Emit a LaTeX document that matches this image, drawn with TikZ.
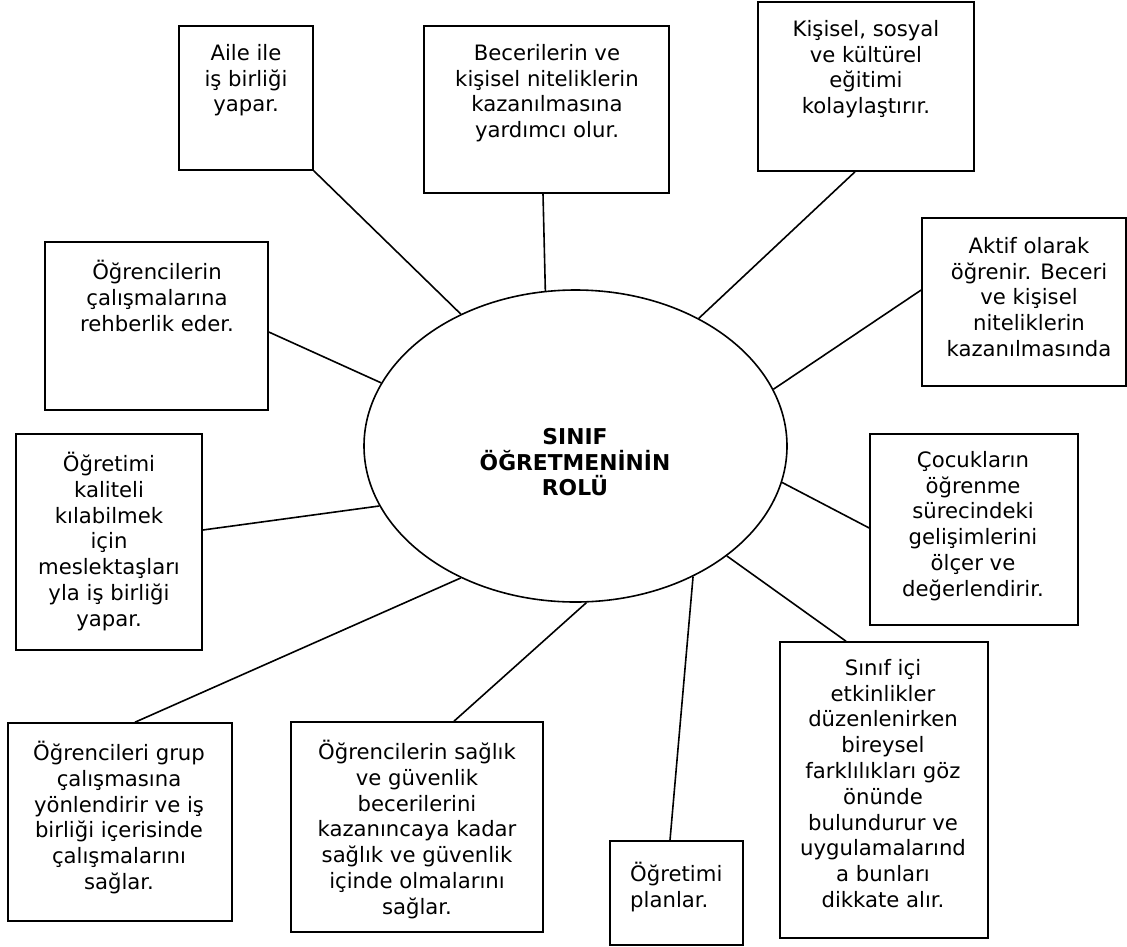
\documentclass[tikz,border=0pt]{standalone}
\usepackage{fontspec}
\setmainfont{DejaVu Sans}
\usetikzlibrary{shapes.geometric}
\begin{document}
\begin{tikzpicture}[x=1pt,y=-1pt,
  box/.style={draw=black,line width=1.6pt,rectangle,inner sep=0pt,fill=none},
  txt/.style={align=center,inner sep=0pt,anchor=north,
    font=\fontsize{21.2}{25.8}\selectfont,
    execute at begin node={\rule{0pt}{21pt}}},
  ctxt/.style={align=center,inner sep=0pt,anchor=north,
    font=\fontsize{21.8}{25.5}\selectfont\bfseries,
    execute at begin node={\rule{0pt}{21pt}}},
  link/.style={draw=black,line width=1.6pt}]
\useasboundingbox (0,0) rectangle (1127,946);
\fill[white] (0,0) rectangle (1127,946);

% central ellipse
\node[ellipse,draw=black,line width=1.6pt,minimum width=423pt,minimum height=312pt,inner sep=0pt] (ell) at (575.5,446) {};
\node[ctxt] (tc) at (575,428.5) {SINIF\\ÖĞRETMENİNİN\\ROLÜ};

% boxes
\node[box,minimum width=134pt,minimum height=144pt] (aile) at (246,98) {};
\node[box,minimum width=245pt,minimum height=167pt] (bec) at (546.5,109.5) {};
\node[box,minimum width=216pt,minimum height=169pt] (kis) at (866,86.5) {};
\node[box,minimum width=204pt,minimum height=168pt] (akt) at (1024,302) {};
\node[box,minimum width=223pt,minimum height=168pt] (reh) at (156.5,326) {};
\node[box,minimum width=186pt,minimum height=216pt] (kal) at (109,542) {};
\node[box,minimum width=208pt,minimum height=191pt] (coc) at (974,529.5) {};
\node[box,minimum width=208pt,minimum height=296pt] (sin) at (884,790) {};
\node[box,minimum width=224pt,minimum height=198pt] (grup) at (120,822) {};
\node[box,minimum width=252pt,minimum height=210pt] (sag) at (417,827) {};
\node[box,minimum width=133pt,minimum height=104pt] (pla) at (676.5,893) {};

% texts
\node[txt] (t1) at (246,44) {Aile ile\\iş birliği\\yapar.};
\node[txt] (t2) at (547,44) {Becerilerin ve\\kişisel niteliklerin\\kazanılmasına\\yardımcı olur.};
\node[txt] (t3) at (866,20) {Kişisel, sosyal\\ve kültürel\\eğitimi\\kolaylaştırır.};
\node[txt] (t4) at (1029,237) {Aktif olarak\\öğrenir. Beceri\\ve kişisel\\niteliklerin\\kazanılmasında};
\node[txt] (t5) at (157,260) {Öğrencilerin\\çalışmalarına\\rehberlik eder.};
\node[txt] (t6) at (109,452) {Öğretimi\\kaliteli\\kılabilmek\\için\\meslektaşları\\yla iş birliği\\yapar.};
\node[txt] (t7) at (973,451) {Çocukların\\öğrenme\\sürecindeki\\gelişimlerini\\ölçer ve\\değerlendirir.};
\node[txt] (t8) at (883,659) {Sınıf içi\\etkinlikler\\düzenlenirken\\bireysel\\farklılıkları göz\\önünde\\bulundurur ve\\uygulamalarınd\\a bunları\\dikkate alır.};
\node[txt] (t9) at (119,741) {Öğrencileri grup\\çalışmasına\\yönlendirir ve iş\\birliği içerisinde\\çalışmalarını\\sağlar.};
\node[txt] (t10) at (417,740) {Öğrencilerin sağlık\\ve güvenlik\\becerilerini\\kazanıncaya kadar\\sağlık ve güvenlik\\içinde olmalarını\\sağlar.};
\node[txt,align=left,anchor=north west] (t11) at (630,862) {Öğretimi\\planlar.};

% connectors
\draw[link] (aile.south east) -- (ell.131.4);
\draw[link] ([xshift=-3.5pt]bec.south) -- (ell.101.9);
\draw[link] ([xshift=-11pt]kis.south) -- (ell.46.7);
\draw[link] ([yshift=12pt]akt.west) -- (ell.16.4);
\draw[link] ([yshift=-6pt]reh.east) -- (ell.162.4);
\draw[link] ([yshift=12pt]kal.east) -- (ell.197.1);
\draw[link] ([yshift=1.5pt]coc.west) -- (ell.-10);
\draw[link] ([xshift=-38pt]sin.north) -- (ell.-36.1);
\draw[link] ([xshift=15pt]grup.north) -- (ell.-131.2);
\draw[link] ([xshift=37pt]sag.north) -- (ell.-86.1);
\draw[link] ([xshift=-6.5pt]pla.north) -- (ell.-48.1);
\end{tikzpicture}
\end{document}
